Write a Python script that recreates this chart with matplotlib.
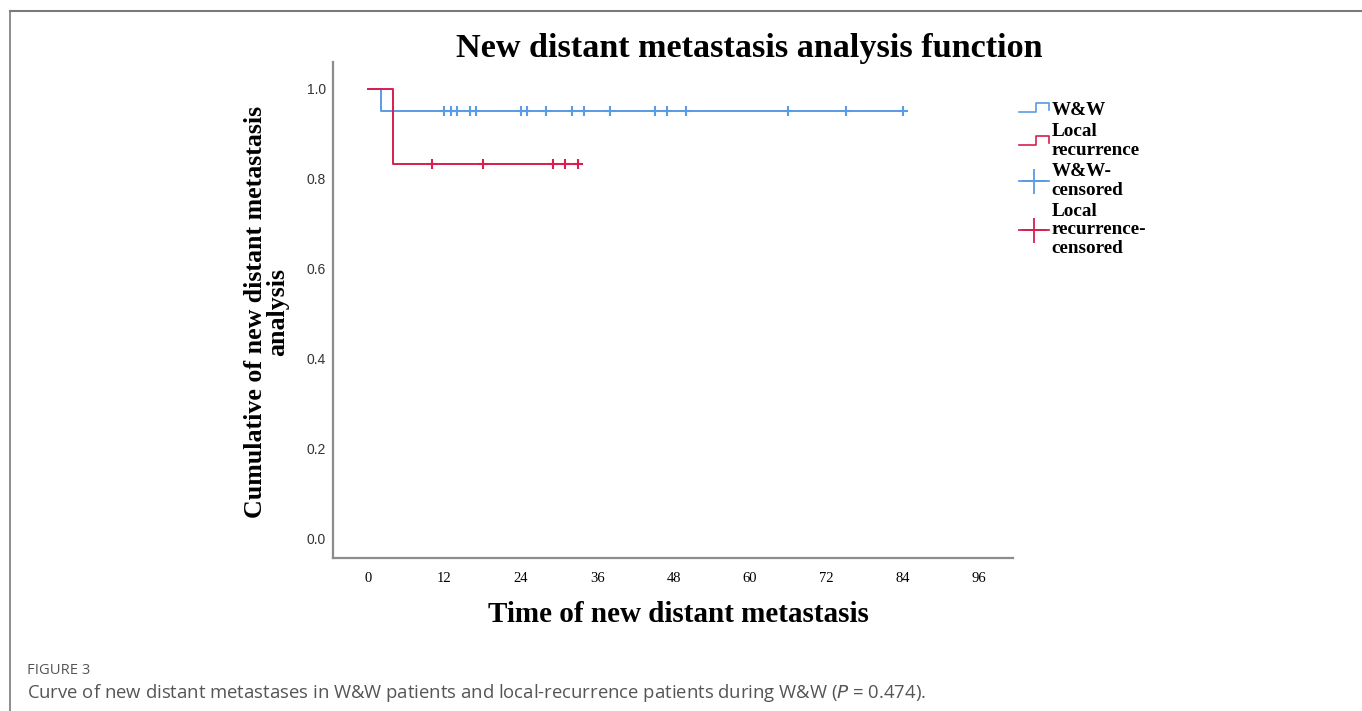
import numpy as np
import matplotlib.pyplot as plt
from matplotlib.lines import Line2D
from matplotlib.legend_handler import HandlerBase

# Kaplan-Meier style data (months, cumulative proportion)
ww_times = [0, 2, 84]
ww_surv = [1.0, 0.95, 0.95]
lr_times = [0, 4, 33]
lr_surv = [1.0, 0.833, 0.833]
ww_censored = [12, 13, 14, 16, 17, 24, 25, 28, 32, 34, 38, 45, 47, 50, 66, 75, 84]
lr_censored = [10, 18, 29, 31, 33]

x_ticks = [0, 12, 24, 36, 48, 60, 72, 84, 96]
y_ticks = [0.0, 0.2, 0.4, 0.6, 0.8, 1.0]

blue = '#5a9be6'
red = '#d81e4f'
serif = 'Liberation Serif'


class StepHandler(HandlerBase):
    def create_artists(self, legend, orig_handle, xdescent, ydescent,
                       width, height, fontsize, trans):
        x0 = -xdescent
        y0 = -ydescent
        xs = [x0, x0 + 0.55 * width, x0 + 0.55 * width, x0 + width, x0 + width]
        ys = [y0 + 0.2 * height, y0 + 0.2 * height, y0 + 0.9 * height,
              y0 + 0.9 * height, y0 + 0.35 * height]
        ln = Line2D(xs, ys, color=orig_handle.get_color(), lw=1.2, transform=trans)
        return [ln]


fig = plt.figure(figsize=(13.62, 7.11), dpi=100)
ax = fig.add_axes([333 / 1362, 153 / 711, 680 / 1362, 496 / 711])

ax.step(ww_times, ww_surv, where='post', color=blue, lw=1.4)
ax.step(lr_times, lr_surv, where='post', color=red, lw=1.4)
ax.plot(ww_censored, [ww_surv[-1]] * len(ww_censored), '+', color=blue,
        ms=7, mew=1.5)
ax.plot(lr_censored, [lr_surv[-1]] * len(lr_censored), '+', color=red,
        ms=7, mew=1.5)

ax.set_xlim(-5.5, 101.3)
ax.set_ylim(-0.0445, 1.0601)
ax.set_xticks(x_ticks)
ax.set_yticks(y_ticks)
ax.set_xticklabels([str(t) for t in x_ticks], fontfamily=serif, fontsize=10.5)
ax.set_yticklabels(['%.1f' % t for t in y_ticks], fontfamily='Liberation Sans',
                   fontsize=10, color='#333333')
ax.tick_params(axis='x', length=0, pad=10)
ax.tick_params(axis='y', length=0, pad=5)
for s in ['top', 'right']:
    ax.spines[s].set_visible(False)
for s in ['left', 'bottom']:
    ax.spines[s].set_color('#8c8c8c')
    ax.spines[s].set_linewidth(1.6)

fig.text(749 / 1362, 1 - 49 / 711, 'New distant metastasis analysis function',
         ha='center', va='center', fontfamily=serif, fontweight='bold', fontsize=24.6)
fig.text(678 / 1362, 1 - 615 / 711, 'Time of new distant metastasis',
         ha='center', va='center', fontfamily=serif, fontweight='bold', fontsize=21)
fig.text(267 / 1362, 1 - 312 / 711, 'Cumulative of new distant metastasis\nanalysis',
         ha='center', va='center', rotation=90, fontfamily=serif,
         fontweight='bold', fontsize=18.6, linespacing=0.95)

handles = [Line2D([], [], color=blue), Line2D([], [], color=red),
           Line2D([], [], color=blue, marker='+', ms=18, mew=1.3, lw=1.3),
           Line2D([], [], color=red, marker='+', ms=18, mew=1.3, lw=1.3)]
labels = ['W&W', 'Local\nrecurrence', 'W&W-\ncensored', 'Local\nrecurrence-\ncensored']
leg = fig.legend(handles, labels, loc='upper left',
                 bbox_to_anchor=(1011 / 1362, 1 - 94 / 711),
                 frameon=False, handlelength=1.6, handletextpad=0.1, labelspacing=0.22,
                 borderaxespad=0,
                 handler_map={handles[0]: StepHandler(), handles[1]: StepHandler()},
                 prop={'family': serif, 'weight': 'bold', 'size': 13.8})
for t in leg.get_texts():
    t.set_linespacing(1.12)

# outer frame and caption
fig.add_artist(Line2D([10 / 1362, 10 / 1362], [0, 1 - 11 / 711], transform=fig.transFigure,
                      color='#7a7a7a', lw=1.2))
fig.add_artist(Line2D([10 / 1362, 1], [1 - 11 / 711, 1 - 11 / 711], transform=fig.transFigure,
                      color='#7a7a7a', lw=1.5))
fig.text(27 / 1362, 1 - 670 / 711, 'FIGURE 3', ha='left', va='center',
         fontfamily='Open Sans', fontsize=10.6, color='#555555')
fig.text(27 / 1362, 1 - 693 / 711,
         'Curve of new distant metastases in W&W patients and local-recurrence patients during W&W ($\\it{P}$ = 0.474).',
         ha='left', va='center', fontfamily='Open Sans', fontsize=13.3, color='#555555')

fig.savefig('out.png', dpi=100)
